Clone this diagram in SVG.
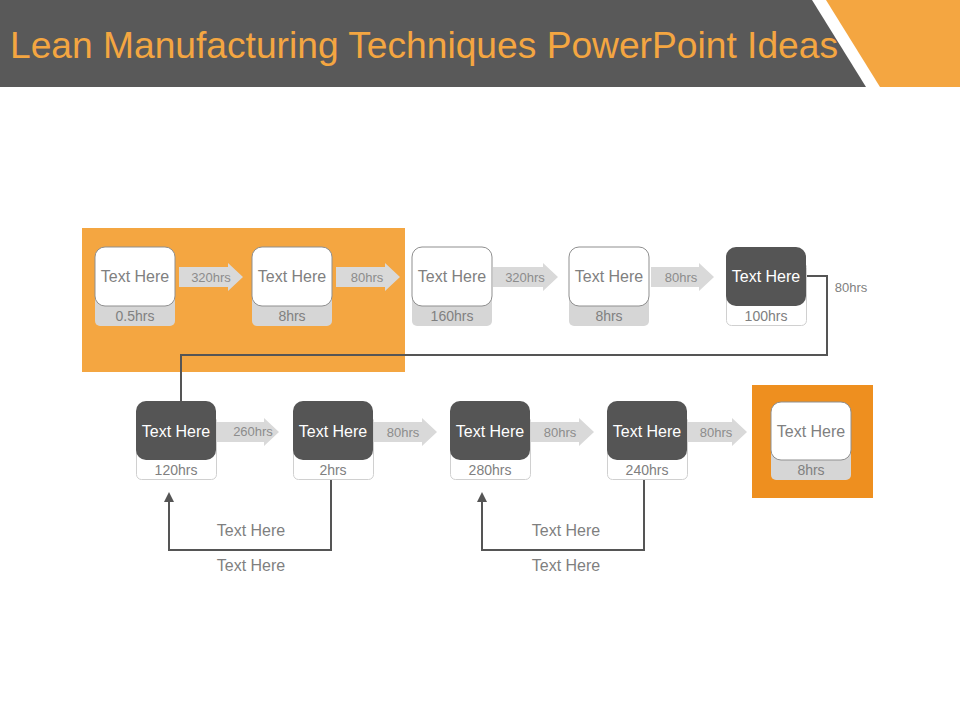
<svg xmlns="http://www.w3.org/2000/svg" width="960" height="720" viewBox="0 0 960 720">
<defs>
<style>
text{font-family:"Liberation Sans",Arial,sans-serif;}
.lbl{font-size:16px;text-anchor:middle;}
.hrs{font-size:14px;text-anchor:middle;fill:#808080;}
.arr{fill:#D9D9D9;}
.atx{font-size:13px;text-anchor:middle;fill:#8C8C8C;}
.wt{fill:#FFFFFF;stroke:#8F8F8F;stroke-width:1;}
.dk{fill:#555555;}
.gb{fill:#D6D6D6;}
.wb{fill:#FFFFFF;stroke:#D0D0D0;stroke-width:1;}
.ln{fill:none;stroke:#555555;stroke-width:2;}
.note{font-size:16px;text-anchor:middle;fill:#7F7F7F;}
</style>
<marker id="ah" viewBox="0 0 10 10" refX="5" refY="5" markerWidth="5" markerHeight="5" orient="auto-start-reverse">
<path d="M0,0 L10,5 L0,10 z" fill="#555555"/>
</marker>
</defs>
<rect width="960" height="720" fill="#FFFFFF"/>
<g id="header">
<polygon points="0,0 812,0 866,87 0,87" fill="#595959"/>
<polygon points="826,0 960,0 960,87 880,87" fill="#F4A641"/>
<text x="10" y="58" font-size="37" fill="#F4A641" textLength="828" lengthAdjust="spacingAndGlyphs">Lean Manufacturing Techniques PowerPoint Ideas</text>
</g>
<g id="highlights">
<rect x="82" y="228" width="323" height="144" fill="#F4A641"/>
<rect x="752" y="385" width="121" height="113" fill="#EE8F1F"/>
</g>
<g id="connectors">
<polyline class="ln" points="806,276 827,276 827,355 181,355 181,401"/>
<polyline class="ln" points="331,480 331,550 169,550 169,497" marker-end="url(#ah)"/>
<polyline class="ln" points="644,480 644,550 482,550 482,497" marker-end="url(#ah)"/>
<polygon class="arr" points="179,267 228,267 228,263 243,277 228,291 228,287 179,287"/>
<polygon class="arr" points="336,267 385,267 385,263 400,277 385,291 385,287 336,287"/>
<polygon class="arr" points="493,267 543,267 543,263 558,277 543,291 543,287 493,287"/>
<polygon class="arr" points="651,267 699,267 699,263 714,277 699,291 699,287 651,287"/>
<polygon class="arr" points="216,422 264,422 264,418 279,432 264,446 264,442 216,442"/>
<polygon class="arr" points="373,422 422,422 422,418 437,432 422,446 422,442 373,442"/>
<polygon class="arr" points="530,422 579,422 579,418 594,432 579,446 579,442 530,442"/>
<polygon class="arr" points="687,422 732,422 732,418 747,432 732,446 732,442 687,442"/>
<text class="atx" x="211" y="282">320hrs</text>
<text class="atx" x="367" y="282">80hrs</text>
<text class="atx" x="525" y="282">320hrs</text>
<text class="atx" x="681" y="282">80hrs</text>
<text class="atx" x="253" y="436">260hrs</text>
<text class="atx" x="403" y="437">80hrs</text>
<text class="atx" x="560" y="437">80hrs</text>
<text class="atx" x="716" y="437">80hrs</text>
<text class="note" x="851" y="292" style="font-size:13px">80hrs</text>
<text class="note" x="251" y="536">Text Here</text>
<text class="note" x="251" y="571">Text Here</text>
<text class="note" x="566" y="536">Text Here</text>
<text class="note" x="566" y="571">Text Here</text>
</g>
<g id="n1">
<rect class="gb" x="95" y="262" width="80" height="64" rx="5"/>
<rect class="wt" x="95" y="247" width="80" height="59" rx="10" stroke="#BBBBBB"/>
<text class="lbl" x="135" y="282" fill="#808080">Text Here</text>
<text class="hrs" x="135" y="321">0.5hrs</text>
</g>
<g id="n2">
<rect class="gb" x="252" y="262" width="80" height="64" rx="5"/>
<rect class="wt" x="252" y="247" width="80" height="59" rx="10"/>
<text class="lbl" x="292" y="282" fill="#808080">Text Here</text>
<text class="hrs" x="292" y="321">8hrs</text>
</g>
<g id="n3">
<rect class="gb" x="412" y="262" width="80" height="64" rx="5"/>
<rect class="wt" x="412" y="247" width="80" height="59" rx="10" stroke="#555555"/>
<text class="lbl" x="452" y="282" fill="#808080">Text Here</text>
<text class="hrs" x="452" y="321">160hrs</text>
</g>
<g id="n4">
<rect class="gb" x="569" y="262" width="80" height="64" rx="5"/>
<rect class="wt" x="569" y="247" width="80" height="59" rx="10" stroke="#555555"/>
<text class="lbl" x="609" y="282" fill="#808080">Text Here</text>
<text class="hrs" x="609" y="321">8hrs</text>
</g>
<g id="n5">
<rect class="wb" x="726.5" y="262.5" width="80" height="63" rx="5"/>
<rect class="dk" x="726" y="247" width="80" height="59" rx="10"/>
<text class="lbl" x="766" y="282" fill="#FFFFFF">Text Here</text>
<text class="hrs" x="766" y="321">100hrs</text>
</g>
<g id="n6">
<rect class="wb" x="136.5" y="416.5" width="80" height="63" rx="5"/>
<rect class="dk" x="136" y="401" width="80" height="59" rx="10"/>
<text class="lbl" x="176" y="437" fill="#FFFFFF">Text Here</text>
<text class="hrs" x="176" y="475">120hrs</text>
</g>
<g id="n7">
<rect class="wb" x="293.5" y="416.5" width="80" height="63" rx="5"/>
<rect class="dk" x="293" y="401" width="80" height="59" rx="10"/>
<text class="lbl" x="333" y="437" fill="#FFFFFF">Text Here</text>
<text class="hrs" x="333" y="475">2hrs</text>
</g>
<g id="n8">
<rect class="wb" x="450.5" y="416.5" width="80" height="63" rx="5"/>
<rect class="dk" x="450" y="401" width="80" height="59" rx="10"/>
<text class="lbl" x="490" y="437" fill="#FFFFFF">Text Here</text>
<text class="hrs" x="490" y="475">280hrs</text>
</g>
<g id="n9">
<rect class="wb" x="607.5" y="416.5" width="80" height="63" rx="5"/>
<rect class="dk" x="607" y="401" width="80" height="59" rx="10"/>
<text class="lbl" x="647" y="437" fill="#FFFFFF">Text Here</text>
<text class="hrs" x="647" y="475">240hrs</text>
</g>
<g id="n10">
<rect class="gb" x="771" y="416" width="80" height="64" rx="5"/>
<rect class="wt" x="771" y="402" width="80" height="58" rx="10" stroke="#BBBBBB"/>
<text class="lbl" x="811" y="437" fill="#808080">Text Here</text>
<text class="hrs" x="811" y="475">8hrs</text>
</g>
</svg>
